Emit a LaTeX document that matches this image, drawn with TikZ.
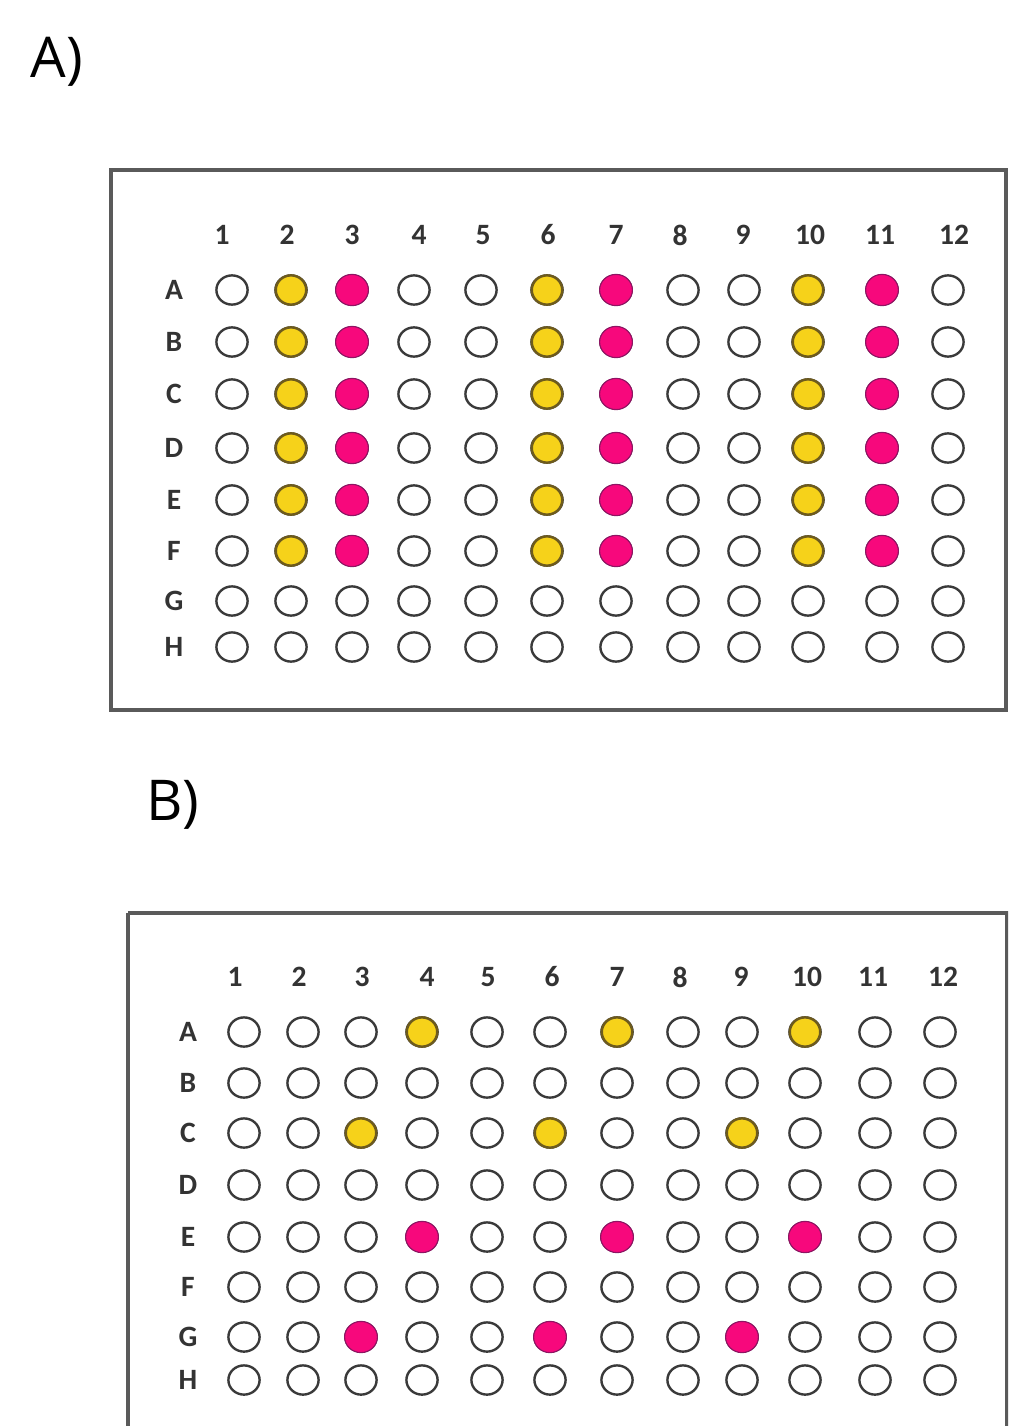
\documentclass[tikz,border=0pt]{standalone}
\usepackage{fontspec}
\setmainfont{Carlito}
\newfontfamily\panelfont{Open Sans}
\usepackage{tikz}
\usetikzlibrary{positioning,calc,shapes.geometric}
\usepackage{xcolor}

\definecolor{wellyellow}{HTML}{F6D21A}
\definecolor{yellowedge}{HTML}{6E5B1C}
\definecolor{wellpink}{HTML}{F7087C}
\definecolor{pinkedge}{HTML}{8E1463}
\definecolor{welledge}{HTML}{3A3A3A}
\definecolor{plateedge}{HTML}{5A5A5A}

\begin{document}
\begin{tikzpicture}[
    x=0.025cm,y=-0.025cm,
    plate/.style={draw=plateedge,line width=2.2pt},
    well/.style={ellipse,draw=welledge,line width=1.7pt,fill=white,
                 minimum width=0.78cm,minimum height=0.73cm,inner sep=0pt},
    yellowwell/.style={well,draw=yellowedge,fill=wellyellow,
                       minimum width=0.76cm,minimum height=0.73cm},
    pinkwell/.style={well,draw=pinkedge,line width=0.8pt,fill=wellpink,
                     minimum width=0.82cm,minimum height=0.78cm},
    lbl/.style={font=\bfseries\fontsize{21}{24}\selectfont,text=black!80,
                inner sep=0pt},
    panel/.style={font=\panelfont\fontsize{40}{44}\selectfont,inner sep=0pt}
]
  \useasboundingbox (0,0) rectangle (1008,1426);
  \clip (0,0) rectangle (1008,1426);

  % Panel A: plate frame, column numbers, row letters, wells.
  \node[panel] (labA) at (57,62) {A)};
  \draw[plate] (111,170) rectangle (1006,710);
  \foreach \c/\x/\lx in {1/232/222,2/291/287,3/352/352,4/414/419,5/481/483,
                         6/547/548,7/616/616,8/683/680,9/744/743,10/808/810,
                         11/882/880,12/948/954}{
    \node[lbl] (a-col\c) at (\lx,235) {\c};
    \foreach \r/\y in {A/290,B/342,C/394,D/448,E/500,F/551,G/601,H/647}
      \node[well] (a-\r\c) at (\x,\y) {};
  }
  \foreach \r/\y in {A/290,B/342,C/394,D/448,E/500,F/551,G/601,H/647}
    \node[lbl] (a-row\r) at (174,\y) {\r};

  % Filled wells in A: rows A-F of columns 2, 6, 10 and 3, 7, 11.
  \foreach \r in {A,B,C,D,E,F}{
    \foreach \c in {2,6,10}
      \node[yellowwell] at (a-\r\c) {};
    \foreach \c in {3,7,11}
      \node[pinkwell] at (a-\r\c) {};
  }

  % Panel B: same layout, fewer filled wells.
  \node[panel] (labB) at (173,805) {B)};
  \draw[plate] (128,913) -- (1007,913) -- (1007,1440);
  \draw[plate] (128,913) -- (128,1440);
  \foreach \c/\x/\lx in {1/244/235,2/303/299,3/361/362,4/422/427,5/487/488,
                         6/550/552,7/617/617,8/683/680,9/742/741,10/805/807,
                         11/875/873,12/940/943}{
    \node[lbl] (b-col\c) at (\lx,977) {\c};
    \foreach \r/\y in {A/1032,B/1083,C/1133,D/1185,E/1237,F/1287,G/1337,H/1380}
      \node[well] (b-\r\c) at (\x,\y) {};
  }
  \foreach \r/\y in {A/1032,B/1083,C/1133,D/1185,E/1237,F/1287,G/1337,H/1380}
    \node[lbl] (b-row\r) at (188,\y) {\r};

  \foreach \w in {A4,A7,A10,C3,C6,C9}
    \node[yellowwell] at (b-\w) {};
  \foreach \w in {E4,E7,E10,G3,G6,G9}
    \node[pinkwell] at (b-\w) {};
\end{tikzpicture}
\end{document}
